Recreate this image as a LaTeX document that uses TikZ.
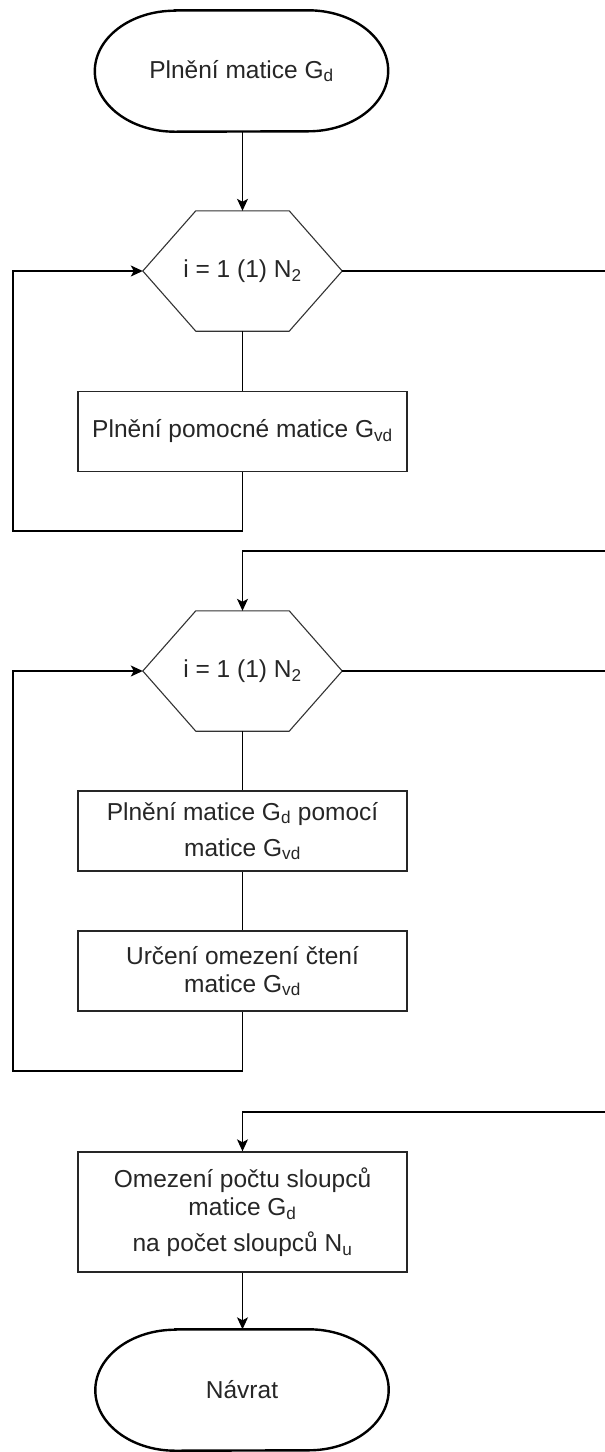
\documentclass[tikz,border=0pt]{standalone}
\usepackage{fontspec}
\setmainfont{Liberation Sans}
\usetikzlibrary{arrows.meta}

% outline of a start/end terminator around a named node
\newcommand\termoutline[1]{%
  \draw[termline] ([xshift=80pt]#1.north west) -- ([xshift=-80pt]#1.north east)
    arc[start angle=90, end angle=-90, x radius=80pt, y radius=60.5pt]
    -- ([xshift=80pt]#1.south west)
    arc[start angle=270, end angle=90, x radius=80pt, y radius=60.5pt] -- cycle;}
% outline of a loop hexagon around a named node
\newcommand\hexoutline[1]{%
  \draw[hexline] (#1.west) -- ([xshift=53pt]#1.north west) -- ([xshift=-53pt]#1.north east)
    -- (#1.east) -- ([xshift=-53pt]#1.south east) -- ([xshift=53pt]#1.south west) -- cycle;}

\begin{document}
\begin{tikzpicture}[x=1pt, y=-1pt,
  conn/.style={line width=1.3pt, draw=black},
  arr/.style={conn, -{Stealth[length=12pt, width=11pt, inset=3pt]}},
  txt/.style={font=\fontsize{24.5}{28}\selectfont, text=black!85, align=center},
  procbox/.style={txt, draw=black!85, line width=1.4pt, minimum width=329pt, inner sep=0pt},
  loophex/.style={txt, minimum width=199pt, minimum height=120pt, inner sep=0pt},
  termbox/.style={txt, minimum width=293pt, minimum height=121pt, inner sep=0pt},
  termline/.style={line width=2.4pt, draw=black},
  hexline/.style={line width=1.1pt, draw=black!80}]

\fill[white] (0,0) rectangle (605,1452);
\useasboundingbox (0,0) rectangle (605,1452);

% nodes
\node[termbox] (start) at (241.5,71) {Plnění matice G\textsubscript{d}};
\node[loophex] (h1) at (242.5,271) {i = 1 (1) N\textsubscript{2}};
\node[procbox, minimum height=80pt] (b1) at (242.5,431.5) {Plnění pomocné matice G\textsubscript{vd}};
\node[loophex] (h2) at (242.5,671) {i = 1 (1) N\textsubscript{2}};
\node[procbox, minimum height=80pt] (b2) at (242.5,831) {Plnění matice G\textsubscript{d} pomocí\\[8pt]matice G\textsubscript{vd}};
\node[procbox, minimum height=80pt] (b3) at (242.5,971) {Určení omezení čtení\\matice G\textsubscript{vd}};
\node[procbox, minimum height=120pt] (b4) at (242.5,1212) {Omezení počtu sloupců\\matice G\textsubscript{d}\\[8pt]na počet sloupců N\textsubscript{u}};
\node[termbox] (end) at (242,1390) {Návrat};

\termoutline{start}
\termoutline{end}
\hexoutline{h1}
\hexoutline{h2}

% routing points
\coordinate (exit1) at (605,271);
\coordinate (back1a) at (242.5,531);
\coordinate (back1b) at (13,531);
\coordinate (back1c) at (13,271);
\coordinate (in2a) at (605,551);
\coordinate (in2b) at (242.5,551);
\coordinate (exit2) at (605,671);
\coordinate (back2a) at (242.5,1071);
\coordinate (back2b) at (13,1071);
\coordinate (back2c) at (13,671);
\coordinate (in3a) at (605,1112);
\coordinate (in3b) at (242.5,1112);

% first loop
\draw[arr] (start.south -| h1.north) -- (h1.north);
\draw[conn] (h1.east) -- (exit1);
\draw[conn] (h1.south) -- (b1.north);
\draw[arr] (b1.south) -- (back1a) -- (back1b) -- (back1c) -- (h1.west);

% second loop
\draw[arr] (in2a) -- (in2b) -- (h2.north);
\draw[conn] (h2.east) -- (exit2);
\draw[conn] (h2.south) -- (b2.north);
\draw[conn] (b2.south) -- (b3.north);
\draw[arr] (b3.south) -- (back2a) -- (back2b) -- (back2c) -- (h2.west);

% closing steps
\draw[arr] (in3a) -- (in3b) -- (b4.north);
\draw[arr] (b4.south) -- (b4.south |- end.north);
\end{tikzpicture}
\end{document}
